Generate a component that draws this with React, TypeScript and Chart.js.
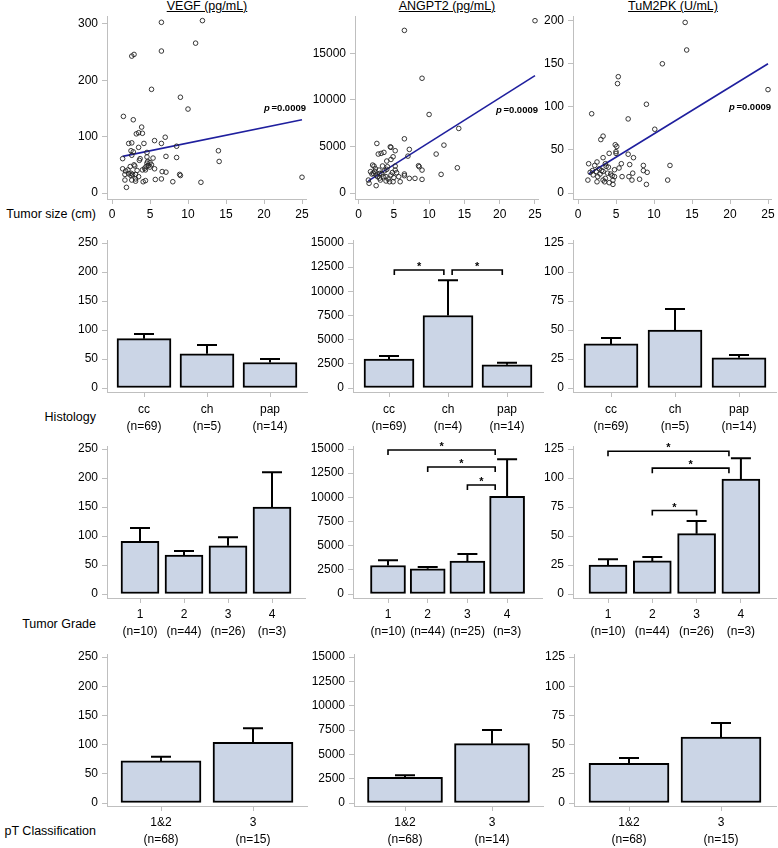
import React, { useEffect, useRef } from 'react';
import { Chart, registerables } from 'chart.js';

Chart.register(...registerables);

const FONT = '"Liberation Sans", Arial, Helvetica, sans-serif';
const AXIS_COLOR = '#bfbfbf';
const BAR_FILL = '#cbd5e6';
const FIT_COLOR = '#1f1f9e';
const INK = '#000000';

// ---------------- Row 1: marker level vs tumor size ----------------
const sizeTicks = [0, 5, 10, 15, 20, 25];

const vegfSize = [6.5, 11.9, 11.0, 6.5, 2.6, 2.9, 5.2, 9.0, 10.0, 1.5, 2.8, 3.9, 3.5, 4.0, 3.2, 7.0, 5.6, 2.2, 2.6, 4.2, 6.5, 8.5, 3.5, 2.5, 2.8, 4.6, 14.0, 1.4, 2.6, 3.7, 3.6, 4.6, 5.4, 7.1, 8.5, 14.1, 2.9, 3.0, 2.4, 4.6, 4.8, 5.0, 4.5, 5.2, 4.3, 4.4, 4.0, 5.6, 1.4, 1.8, 2.1, 2.5, 2.2, 1.7, 2.5, 2.7, 3.1, 3.5, 3.1, 1.7, 2.6, 3.1, 4.1, 4.4, 5.7, 6.5, 6.6, 7.1, 8.9, 9.0, 8.0, 11.7, 1.9, 25.0, 3.3, 5.0, 4.7];
const vegfLevel = [303, 306, 266, 252, 243, 246, 184, 170, 149, 136, 130, 117, 107, 106, 105, 99, 93, 88, 89, 88, 88, 83, 81, 75, 73, 72, 75, 61, 67, 61, 58, 64, 62, 65, 63, 56, 50, 48, 47, 53, 49, 54, 47, 50, 44, 41, 41, 43, 43, 39, 41, 35, 34, 33, 31, 33, 33, 29, 25, 23, 23, 21, 20, 22, 24, 25, 38, 37, 33, 31, 20, 19, 10, 28, 40, 46, 56];
const vegfFit = [1.4, 65, 25, 130];
const vegfScatterTicks = [0, 100, 200, 300];

const angSize = [6.5, 9.0, 10.0, 14.2, 6.5, 12.1, 7.2, 7.0, 11.0, 2.6, 4.5, 4.6, 5.2, 2.8, 3.2, 3.6, 4.9, 4.0, 4.6, 8.5, 8.6, 9.0, 14.0, 11.7, 6.5, 6.5, 7.2, 8.0, 9.0, 2.0, 2.2, 1.7, 1.4, 1.5, 2.5, 2.5, 2.7, 3.0, 3.3, 3.7, 4.0, 4.1, 5.2, 5.4, 5.7, 5.9, 4.9, 4.4, 3.9, 3.1, 4.6, 5.2, 3.5, 3.9, 2.9, 2.3, 2.1, 1.9, 25.0, 3.4, 2.4, 4.8, 3.0, 4.2, 5.0];
const angLevel = [17460, 12320, 8430, 6930, 5820, 5140, 4680, 3960, 4180, 5320, 4960, 4900, 4540, 4180, 4250, 4360, 3890, 3430, 3600, 2930, 2820, 2460, 2710, 2000, 2040, 1860, 1570, 1570, 1460, 3000, 2890, 2290, 1390, 1040, 790, 1930, 1750, 2100, 2040, 2390, 2540, 2820, 2890, 2180, 1750, 1210, 1210, 1210, 1290, 1390, 1930, 2460, 1750, 1750, 2460, 2290, 2110, 2040, 18500, 2900, 2600, 2200, 1600, 1500, 1650];
const angFit = [1.4, 1300, 25, 12600];
const angScatterTicks = [0, 5000, 10000, 15000];

const tumSize = [14.1, 14.3, 11.1, 5.3, 5.2, 9.0, 1.8, 6.6, 25.0, 10.1, 3.3, 3.0, 4.9, 5.1, 5.0, 5.0, 4.1, 6.6, 7.3, 3.3, 2.5, 1.4, 2.2, 5.7, 3.6, 3.7, 6.8, 8.6, 12.1, 8.6, 9.1, 5.4, 4.8, 7.2, 6.7, 7.1, 5.8, 1.6, 2.0, 1.3, 2.6, 2.9, 3.1, 3.3, 3.9, 4.3, 4.5, 4.8, 3.3, 3.5, 2.5, 4.1, 4.6, 3.6, 8.1, 9.0, 11.8, 1.9, 2.4, 4.6, 2.8, 4.0];
const tumLevel = [198, 166, 150, 135, 127, 103, 92, 86, 120, 74, 66, 62, 56, 54, 48, 46, 46, 45, 41, 41, 36, 34, 32, 34, 34, 31, 33, 32, 32, 26, 24, 29, 27, 23, 19, 15, 19, 24, 21, 15, 19, 22, 26, 25, 23, 22, 20, 19, 15, 13, 13, 12, 10, 17, 16, 10, 15, 26, 25, 15, 28, 30];
const tumFit = [1.4, 22, 25, 150];
const tumScatterTicks = [0, 50, 100, 150, 200];

const pValueText = '=0.0009';

// ---------------- Bar rows ----------------
const vegfBarTicks = [0, 50, 100, 150, 200, 250];
const angBarTicks = [0, 2500, 5000, 7500, 10000, 12500, 15000];
const tumBarTicks = [0, 25, 50, 75, 100, 125];

// Histology
const histCats = ['cc', 'ch', 'pap'];
const vegfHistN = [69, 5, 14];
const vegfHistMean = [85, 59, 44];
const vegfHistSE = [8, 15, 6];
const angHistN = [69, 4, 14];
const angHistMean = [3000, 7500, 2400];
const angHistSE = [300, 3650, 200];
const angHistBrackets = [[0.09, 0.93, 12200], [1.07, 1.92, 12200]];
const tumHistN = [69, 5, 14];
const tumHistMean = [38, 50, 26];
const tumHistSE = [5, 18, 2.5];

// Tumor grade
const gradeCats = ['1', '2', '3', '4'];
const vegfGradeN = [10, 44, 26, 3];
const vegfGradeMean = [91, 67, 83, 150];
const vegfGradeSE = [23, 7, 15, 60];
const angGradeN = [10, 44, 25, 3];
const angGradeMean = [2950, 2600, 3400, 10100];
const angGradeSE = [550, 200, 750, 3850];
const angGradeBrackets = [[0, 2.7, 14900], [1, 2.7, 13140], [2, 2.7, 11280]];
const tumGradeN = [10, 44, 26, 3];
const tumGradeMean = [25, 28.5, 52, 99];
const tumGradeSE = [5, 3.5, 11, 18];
const tumGradeBrackets = [[0, 2.73, 123], [1, 2.73, 108.5], [1, 2, 72]];

// pT classification
const ptCats = ['1&2', '3'];
const vegfPtN = [68, 15];
const vegfPtMean = [72, 104];
const vegfPtSE = [7, 24];
const angPtN = [68, 14];
const angPtMean = [2650, 6100];
const angPtSE = [200, 1400];
const tumPtN = [68, 15];
const tumPtMean = [34, 56.5];
const tumPtSE = [4.5, 12];

const titles = ['VEGF (pg/mL)', 'ANGPT2 (pg/mL)', 'TuM2PK (U/mL)'];
const rowLabels = ['Tumor size (cm)', 'Histology', 'Tumor Grade', 'pT Classification'];

// ---------------- layout ----------------
type Box = { l: number; t: number; r: number; b: number };

const YW = 60;
const PT = 14;
const PR = 10;
const XH_SCATTER = 28;
const XH_BAR = 50;

const titleX = [207, 447, 673];
const rowLabelY = [214, 417, 624, 831];

interface ScatterSpec {
  kind: 'scatter';
  box: Box;
  y0: number; yT: number; yTV: number;
  x0: number; xPer: number;
  xs: number[]; ys: number[]; fit: number[]; yTicks: number[];
  pY: number;
}

interface BarSpec {
  kind: 'bar';
  box: Box;
  y0: number; yT: number; yTV: number;
  c0: number; sp: number; bw: number;
  cats: string[]; ns: number[]; means: number[]; ses: number[]; yTicks: number[];
  brackets: number[][];
  labelPad: number;
}

type Spec = ScatterSpec | BarSpec;

const panels: Spec[] = [
  { kind: 'scatter', box: { l: 107, t: 16, r: 306, b: 199 }, y0: 193, yT: 24, yTV: 300, x0: 112, xPer: 7.6, xs: vegfSize, ys: vegfLevel, fit: vegfFit, yTicks: vegfScatterTicks, pY: 108 },
  { kind: 'scatter', box: { l: 355, t: 16, r: 538, b: 199 }, y0: 193, yT: 53.3, yTV: 15000, x0: 358.5, xPer: 7.06, xs: angSize, ys: angLevel, fit: angFit, yTicks: angScatterTicks, pY: 110 },
  { kind: 'scatter', box: { l: 573, t: 16, r: 771, b: 199 }, y0: 193, yT: 20.7, yTV: 200, x0: 578, xPer: 7.6, xs: tumSize, ys: tumLevel, fit: tumFit, yTicks: tumScatterTicks, pY: 107 },

  { kind: 'bar', box: { l: 107, t: 240, r: 307, b: 392 }, y0: 388, yT: 243, yTV: 250, c0: 144, sp: 63, bw: 54, cats: histCats, ns: vegfHistN, means: vegfHistMean, ses: vegfHistSE, yTicks: vegfBarTicks, brackets: [], labelPad: 4.5 },
  { kind: 'bar', box: { l: 353, t: 240, r: 543, b: 392 }, y0: 388, yT: 243, yTV: 15000, c0: 389, sp: 59, bw: 50, cats: histCats, ns: angHistN, means: angHistMean, ses: angHistSE, yTicks: angBarTicks, brackets: angHistBrackets, labelPad: 4.5 },
  { kind: 'bar', box: { l: 573, t: 240, r: 776, b: 392 }, y0: 388, yT: 243, yTV: 125, c0: 611, sp: 64, bw: 54, cats: histCats, ns: tumHistN, means: tumHistMean, ses: tumHistSE, yTicks: tumBarTicks, brackets: [], labelPad: 4.5 },

  { kind: 'bar', box: { l: 107, t: 446, r: 305, b: 598 }, y0: 594, yT: 449, yTV: 250, c0: 140, sp: 44, bw: 38, cats: gradeCats, ns: vegfGradeN, means: vegfGradeMean, ses: vegfGradeSE, yTicks: vegfBarTicks, brackets: [], labelPad: 3.5 },
  { kind: 'bar', box: { l: 353, t: 446, r: 542, b: 598 }, y0: 594, yT: 449, yTV: 15000, c0: 388, sp: 39.7, bw: 35, cats: gradeCats, ns: angGradeN, means: angGradeMean, ses: angGradeSE, yTicks: angBarTicks, brackets: angGradeBrackets, labelPad: 3.5 },
  { kind: 'bar', box: { l: 573, t: 446, r: 776, b: 598 }, y0: 594, yT: 449, yTV: 125, c0: 608, sp: 44.3, bw: 38, cats: gradeCats, ns: tumGradeN, means: tumGradeMean, ses: tumGradeSE, yTicks: tumBarTicks, brackets: tumGradeBrackets, labelPad: 3.5 },

  { kind: 'bar', box: { l: 107, t: 654, r: 307, b: 806 }, y0: 803, yT: 657, yTV: 250, c0: 161, sp: 92, bw: 80, cats: ptCats, ns: vegfPtN, means: vegfPtMean, ses: vegfPtSE, yTicks: vegfBarTicks, brackets: [], labelPad: 3.5 },
  { kind: 'bar', box: { l: 354, t: 654, r: 543, b: 806 }, y0: 803, yT: 657, yTV: 15000, c0: 405, sp: 87, bw: 75, cats: ptCats, ns: angPtN, means: angPtMean, ses: angPtSE, yTicks: angBarTicks, brackets: [], labelPad: 3.5 },
  { kind: 'bar', box: { l: 574, t: 654, r: 776, b: 806 }, y0: 803, yT: 657, yTV: 125, c0: 629, sp: 92, bw: 80, cats: ptCats, ns: tumPtN, means: tumPtMean, ses: tumPtSE, yTicks: tumBarTicks, brackets: [], labelPad: 3.5 },
];

// ---------------- chart builders ----------------
function yAxis(min: number, max: number, ticks: number[]) {
  return {
    type: 'linear',
    min,
    max,
    afterBuildTicks: (ax: any) => { ax.ticks = ticks.map((v) => ({ value: v })); },
    afterFit: (ax: any) => { ax.width = YW; },
    grid: { drawOnChartArea: false, drawTicks: true, tickLength: 5, color: AXIS_COLOR, lineWidth: 1 },
    border: { display: true, color: AXIS_COLOR, width: 1 },
    ticks: { color: INK, font: { family: FONT, size: 12 }, padding: 4, callback: (v: any) => String(v) },
  };
}

function xAxis(min: number, max: number, ticks: number[], cb: (v: any) => any, height: number, padding: number, lineHeight: number) {
  return {
    type: 'linear',
    min,
    max,
    offset: false,
    afterBuildTicks: (ax: any) => { ax.ticks = ticks.map((v) => ({ value: v })); },
    afterFit: (ax: any) => { ax.height = height; },
    grid: { drawOnChartArea: false, drawTicks: true, tickLength: 5, color: AXIS_COLOR, lineWidth: 1, offset: false },
    border: { display: true, color: AXIS_COLOR, width: 1 },
    ticks: { color: INK, font: { family: FONT, size: 12, lineHeight }, padding, maxRotation: 0, minRotation: 0, autoSkip: false, callback: cb },
  };
}

function yRange(s: Spec): [number, number] {
  const k = (s.y0 - s.yT) / s.yTV;
  return [-(s.box.b - s.y0) / k, (s.y0 - s.box.t) / k];
}

function baseOptions(scales: any) {
  return {
    responsive: false,
    maintainAspectRatio: false,
    animation: false,
    events: [],
    layout: { padding: { top: PT, right: PR, left: 0, bottom: 0 } },
    plugins: { legend: { display: false }, tooltip: { enabled: false }, title: { display: false } },
    scales,
  };
}

function scatterConfig(s: ScatterSpec): any {
  const [yMin, yMax] = yRange(s);
  const xMin = (s.box.l - s.x0) / s.xPer;
  const xMax = (s.box.r - s.x0) / s.xPer;
  const pLabel = {
    id: 'pLabel',
    afterDatasetsDraw(chart: any) {
      const { ctx, chartArea } = chart;
      const yy = chartArea.top + (s.pY - s.box.t);
      ctx.save();
      ctx.fillStyle = INK;
      ctx.textBaseline = 'middle';
      ctx.textAlign = 'left';
      ctx.font = `bold 9.5px ${FONT}`;
      const wr = ctx.measureText(pValueText).width;
      const xr = chartArea.right;
      ctx.fillText(pValueText, xr - wr, yy);
      ctx.font = `italic bold 9.5px ${FONT}`;
      const wp = ctx.measureText('p').width;
      ctx.fillText('p', xr - wr - wp - 1.5, yy);
      ctx.restore();
    },
  };
  return {
    type: 'scatter',
    data: {
      datasets: [
        {
          data: s.xs.map((x, i) => ({ x, y: s.ys[i] })),
          showLine: false,
          pointStyle: 'circle',
          pointRadius: 2.3,
          pointBorderWidth: 0.9,
          borderColor: '#222',
          pointBorderColor: '#222',
          backgroundColor: 'rgba(255,255,255,0)',
          pointBackgroundColor: 'rgba(255,255,255,0)',
        },
        {
          data: [{ x: s.fit[0], y: s.fit[1] }, { x: s.fit[2], y: s.fit[3] }],
          showLine: true,
          borderColor: FIT_COLOR,
          borderWidth: 1.6,
          pointRadius: 0,
          fill: false,
        },
      ],
    },
    options: baseOptions({
      x: xAxis(xMin, xMax, sizeTicks, (v: any) => String(v), XH_SCATTER, 3, 1.2),
      y: yAxis(yMin, yMax, s.yTicks),
    }),
    plugins: [pLabel],
  };
}

function barConfig(s: BarSpec): any {
  const [yMin, yMax] = yRange(s);
  const xMin = -(s.c0 - s.box.l) / s.sp;
  const xMax = (s.box.r - s.c0) / s.sp;
  const extras = {
    id: 'barExtras',
    afterDatasetsDraw(chart: any) {
      const { ctx } = chart;
      const x = chart.scales.x;
      const y = chart.scales.y;
      ctx.save();
      ctx.strokeStyle = INK;
      ctx.fillStyle = INK;
      ctx.lineWidth = 2;
      s.means.forEach((m, i) => {
        const px = x.getPixelForValue(i);
        const yt = y.getPixelForValue(m);
        const ye = y.getPixelForValue(m + s.ses[i]);
        ctx.beginPath();
        ctx.moveTo(px, yt);
        ctx.lineTo(px, ye);
        ctx.moveTo(px - 10, ye);
        ctx.lineTo(px + 10, ye);
        ctx.stroke();
      });
      ctx.lineWidth = 1.6;
      ctx.font = `bold 11px ${FONT}`;
      ctx.textAlign = 'center';
      ctx.textBaseline = 'middle';
      s.brackets.forEach(([a, b, v]) => {
        const xa = x.getPixelForValue(a);
        const xb = x.getPixelForValue(b);
        const yy = y.getPixelForValue(v);
        ctx.beginPath();
        ctx.moveTo(xa, yy + 5);
        ctx.lineTo(xa, yy);
        ctx.lineTo(xb, yy);
        ctx.lineTo(xb, yy + 5);
        ctx.stroke();
        ctx.fillText('*', (xa + xb) / 2, yy - 3);
      });
      ctx.restore();
    },
  };
  return {
    type: 'bar',
    data: {
      datasets: [
        {
          data: s.means.map((m, i) => ({ x: i, y: m })),
          backgroundColor: BAR_FILL,
          borderColor: INK,
          borderWidth: 2,
          borderSkipped: false,
          barThickness: s.bw,
        },
      ],
    },
    options: baseOptions({
      x: xAxis(xMin, xMax, s.cats.map((_, i) => i), (v: any) => [s.cats[v], `(n=${s.ns[v]})`], XH_BAR, s.labelPad, 1.4),
      y: yAxis(yMin, yMax, s.yTicks),
    }),
    plugins: [extras],
  };
}

function Panel({ spec }: { spec: Spec }) {
  const ref = useRef<HTMLCanvasElement>(null);
  const xh = spec.kind === 'scatter' ? XH_SCATTER : XH_BAR;
  const width = YW + (spec.box.r - spec.box.l) + PR;
  const height = PT + (spec.box.b - spec.box.t) + xh;
  useEffect(() => {
    if (!ref.current) return;
    const cfg = spec.kind === 'scatter' ? scatterConfig(spec) : barConfig(spec);
    const chart = new Chart(ref.current, cfg);
    return () => chart.destroy();
  }, [spec]);
  return (
    <canvas
      ref={ref}
      width={width}
      height={height}
      style={{ position: 'absolute', left: spec.box.l - YW, top: spec.box.t - PT, width, height }}
    />
  );
}

export default function App() {
  return (
    <div style={{ position: 'relative', width: 778, height: 848, overflow: 'hidden', background: '#ffffff', fontFamily: FONT, color: INK }}>
      <style>{'body{margin:0;background:#fff}'}</style>
      {titles.map((t, i) => (
        <div
          key={t}
          style={{ position: 'absolute', left: titleX[i] - 100, width: 200, top: -1, textAlign: 'center', fontSize: 12.5, lineHeight: '14px', textDecoration: 'underline', whiteSpace: 'nowrap' }}
        >
          {t}
        </div>
      ))}
      {rowLabels.map((t, i) => (
        <div
          key={t}
          style={{ position: 'absolute', left: 0, width: 96, top: rowLabelY[i] - 7, textAlign: 'right', fontSize: 12.5, lineHeight: '14px', whiteSpace: 'nowrap' }}
        >
          {t}
        </div>
      ))}
      {panels.map((p, i) => (
        <Panel key={i} spec={p} />
      ))}
    </div>
  );
}
